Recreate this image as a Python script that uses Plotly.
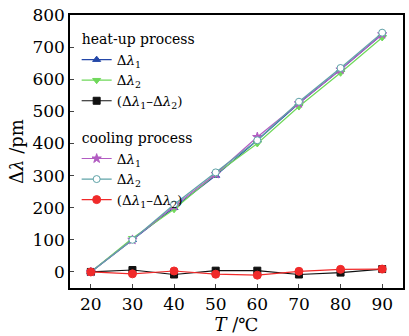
import plotly.graph_objects as go

T = [20, 30, 40, 50, 60, 70, 80, 90]
heat_l1 = [0, 100, 200, 300, 410, 525, 630, 740]
heat_l2 = [0, 105, 195, 305, 400, 515, 620, 730]
heat_diff = [0, 6, -8, 4, 4, -8, -2, 9]
cool_l1 = [0, 100, 205, 305, 420, 525, 630, 740]
cool_l2 = [0, 100, 210, 310, 410, 530, 635, 745]
cool_diff = [0, -6, 3, -7, -10, 2, 8, 9]

FONT = "DejaVu Serif"
L1 = "Δ<i>λ</i><sub>1</sub>"
L2 = "Δ<i>λ</i><sub>2</sub>"
LD = "(Δ<i>λ</i><sub>1</sub>–Δ<i>λ</i><sub>2</sub>)"

fig = go.Figure()

def add(y, name, color, symbol, group, title=None, fill=True, lw=1.2, size=7):
    kw = {}
    if title:
        kw["legendgrouptitle"] = dict(text=title, font=dict(family=FONT, size=14, color="black"))
    fig.add_trace(go.Scatter(
        x=T, y=y, name=name, mode="lines+markers",
        line=dict(color=color, width=lw),
        marker=dict(symbol=symbol, size=size, color=color if fill else "white",
                    line=dict(color=color, width=1)),
        legendgroup=group, **kw))

add(heat_l1, L1, "#2447a8", "triangle-up", "heat", "heat-up process")
add(heat_l2, L2, "#6fd85a", "triangle-down", "heat")
add(heat_diff, LD, "#111111", "square", "heat")
add(cool_l1, L1, "#b25cc2", "star", "cool", "cooling process")
add(cool_l2, L2, "#5fa3a8", "circle", "cool", fill=False)
add(cool_diff, LD, "#f02a2a", "circle", "cool", size=8)

fig.update_layout(
    width=409, height=336,
    margin=dict(l=70, r=4, t=15, b=48),
    plot_bgcolor="white", paper_bgcolor="white",
    font=dict(family=FONT, size=17, color="black"),
    showlegend=True,
    legend=dict(x=0.02, y=0.97, xanchor="left", yanchor="top",
                bgcolor="rgba(0,0,0,0)", font=dict(family=FONT, size=13.5),
                tracegroupgap=16, itemwidth=30, groupclick="toggleitem"),
)
fig.update_xaxes(range=[15, 95], tickvals=T, ticks="inside", ticklen=4,
                 showline=True, linecolor="black", linewidth=1.5, mirror=True,
                 showgrid=False, zeroline=False,
                 title=dict(text="<i>T</i> /℃", font=dict(family=FONT, size=18), standoff=2))
fig.update_yaxes(range=[-50, 800], tickvals=[0, 100, 200, 300, 400, 500, 600, 700, 800],
                 ticks="inside", ticklen=4,
                 showline=True, linecolor="black", linewidth=1.5, mirror=True,
                 showgrid=False, zeroline=False,
                 title=dict(text="Δ<i>λ</i> /pm", font=dict(family=FONT, size=18), standoff=4))

fig.write_html("out.html")
